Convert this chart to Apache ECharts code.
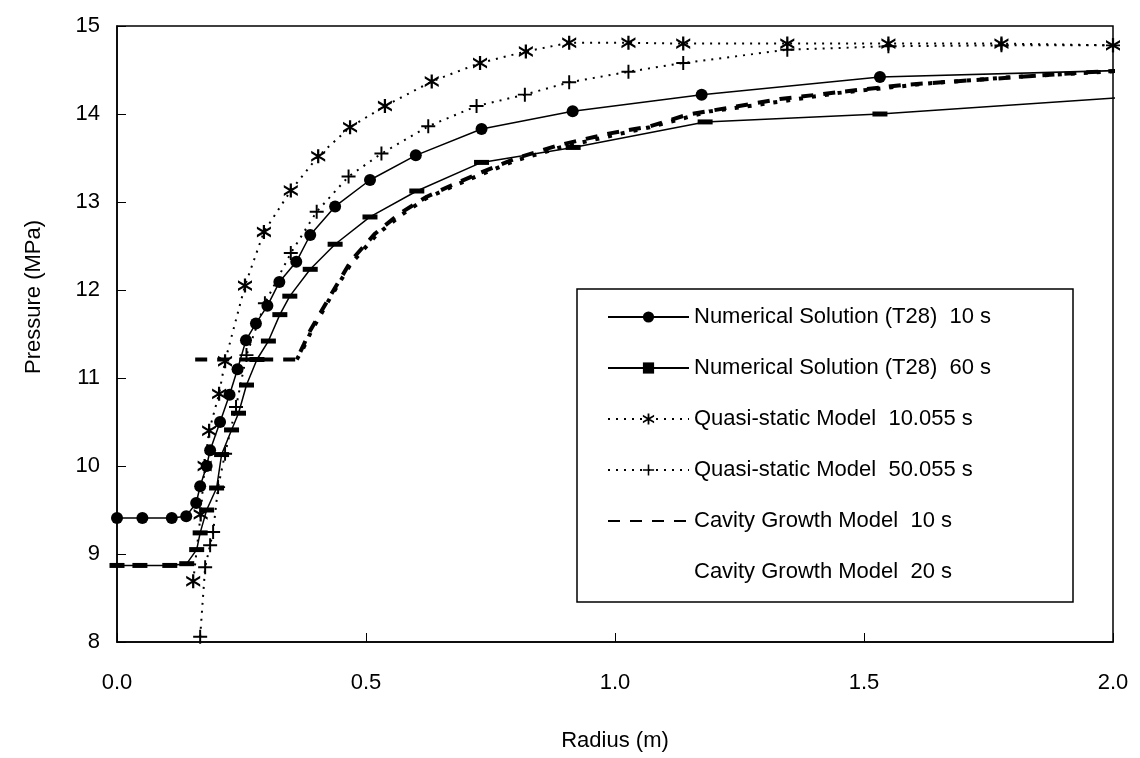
<!DOCTYPE html>
<html><head><meta charset="utf-8">
<script src="https://cdn.jsdelivr.net/npm/echarts@6/dist/echarts.min.js"></script>
<style>html,body{margin:0;padding:0;background:#fff}#c{width:1140px;height:758px}</style>
</head><body><div id="c"></div>
<script>
// ---- data ----
const seriesNames = [
  'Numerical Solution (T28)  10 s',
  'Numerical Solution (T28)  60 s',
  'Quasi-static Model  10.055 s',
  'Quasi-static Model  50.055 s',
  'Cavity Growth Model  10 s',
  'Cavity Growth Model  20 s'
];
const xTicks = [0, 0.5, 1.0, 1.5, 2.0];
const yTicks = [8, 9, 10, 11, 12, 13, 14, 15];

const num10X = [0, 0.051, 0.11, 0.139, 0.159, 0.167, 0.18, 0.187, 0.207, 0.226, 0.242, 0.259, 0.279, 0.302, 0.326, 0.36, 0.388, 0.438, 0.508, 0.600, 0.732, 0.915, 1.174, 1.532, 2.05];
const num10Y = [9.41, 9.41, 9.41, 9.43, 9.58, 9.77, 10.0, 10.18, 10.50, 10.81, 11.10, 11.43, 11.62, 11.82, 12.09, 12.32, 12.625, 12.95, 13.25, 13.53, 13.83, 14.03, 14.22, 14.42, 14.50];

const num60X = [0, 0.046, 0.106, 0.14, 0.16, 0.167, 0.18, 0.20, 0.21, 0.23, 0.244, 0.26, 0.281, 0.304, 0.327, 0.347, 0.388, 0.438, 0.508, 0.602, 0.732, 0.916, 1.181, 1.532, 2.05];
const num60Y = [8.87, 8.87, 8.87, 8.89, 9.05, 9.24, 9.5, 9.75, 10.13, 10.41, 10.60, 10.92, 11.21, 11.42, 11.72, 11.93, 12.235, 12.52, 12.83, 13.125, 13.45, 13.62, 13.91, 14.0, 14.20];

const qs10X = [0.153, 0.168, 0.176, 0.185, 0.205, 0.217, 0.257, 0.295, 0.349, 0.404, 0.468, 0.538, 0.632, 0.729, 0.821, 0.908, 1.027, 1.137, 1.346, 1.549, 1.776, 2.0];
const qs10Y = [8.69, 9.45, 10.0, 10.4, 10.82, 11.19, 12.05, 12.66, 13.13, 13.52, 13.85, 14.09, 14.37, 14.58, 14.71, 14.81, 14.81, 14.80, 14.80, 14.80, 14.80, 14.78];

const qs50X = [0.167, 0.177, 0.187, 0.193, 0.203, 0.217, 0.239, 0.26, 0.297, 0.349, 0.401, 0.465, 0.531, 0.625, 0.722, 0.819, 0.908, 1.027, 1.137, 1.346, 1.549, 1.776, 2.0];
const qs50Y = [8.06, 8.85, 9.1, 9.25, 9.76, 10.14, 10.67, 11.26, 11.85, 12.42, 12.89, 13.29, 13.55, 13.86, 14.09, 14.22, 14.36, 14.48, 14.58, 14.73, 14.77, 14.78, 14.78];

const cg10X = [0.157, 0.361, 0.375, 0.388, 0.431, 0.471, 0.518, 0.568, 0.622, 0.672, 0.729, 0.803, 0.89, 0.99, 1.07, 1.144, 1.237, 1.331, 1.452, 1.578, 1.759, 1.934, 2.05];
const cg10Y = [11.21, 11.21, 11.38, 11.54, 11.96, 12.34, 12.64, 12.87, 13.06, 13.19, 13.33, 13.50, 13.65, 13.78, 13.86, 13.99, 14.08, 14.17, 14.25, 14.33, 14.40, 14.47, 14.50];

const cg20X = [0.361, 0.375, 0.39, 0.43, 0.47, 0.52, 0.57, 0.62, 0.675, 0.73, 0.80, 0.89, 0.99, 1.07, 1.19, 1.294, 1.45, 1.633, 1.80, 2.05];
const cg20Y = [11.21, 11.35, 11.53, 11.93, 12.30, 12.62, 12.85, 13.04, 13.18, 13.31, 13.47, 13.62, 13.75, 13.85, 14.03, 14.11, 14.24, 14.35, 14.42, 14.50];

// ---- build ----
const pairs = (xs, ys) => xs.map((x, i) => [x, ys[i]]);
const FONT = '"Liberation Sans", Arial, sans-serif';
const asterisk = 'path://M4.2,0 L5.8,0 L5.8,10 L4.2,10 Z M0,1.1 L10,7.1 L10,8.9 L0,2.9 Z M0,7.1 L10,1.1 L10,2.9 L0,8.9 Z';
const plusSym = 'path://M4.3,0 L5.7,0 L5.7,10 L4.3,10 Z M0,4.3 L10,4.3 L10,5.7 L0,5.7 Z';
const dashSym = 'path://M0,0 L15,0 L15,5 L0,5 Z';
const black = '#000';

const chart = echarts.init(document.getElementById('c'), null, {renderer: 'canvas'});
chart.setOption({
  backgroundColor: '#fff',
  animation: false,
  textStyle: {fontFamily: FONT, color: black},
  grid: {left: 117, top: 26, width: 996, height: 616, show: true, borderColor: black, borderWidth: 1.5, backgroundColor: 'transparent'},
  xAxis: {
    type: 'value', min: 0, max: 2, interval: 0.5,
    axisLine: {lineStyle: {color: black, width: 1.5}},
    axisTick: {inside: true, length: 9, lineStyle: {color: black, width: 1}},
    axisLabel: {formatter: v => xTicks.includes(v) ? v.toFixed(1) : '', fontSize: 22, color: black, margin: 30, fontFamily: FONT},
    splitLine: {show: false}
  },
  yAxis: {
    type: 'value', min: 8, max: 15, interval: 1,
    axisLine: {show: true, lineStyle: {color: black, width: 1.5}},
    axisTick: {show: true, inside: true, length: 9, lineStyle: {color: black, width: 1}},
    axisLabel: {formatter: v => yTicks.includes(v) ? String(v) : '', fontSize: 22, color: black, margin: 17, fontFamily: FONT},
    splitLine: {show: false}
  },
  graphic: [
    {type: 'rect', shape: {x: 577, y: 289, width: 496, height: 313}, style: {fill: '#fff', stroke: black, lineWidth: 1.5}, z: 50},
    {type: 'text', x: 615, y: 741, style: {text: 'Radius (m)', font: '22px ' + FONT, fill: black, textAlign: 'center', textVerticalAlign: 'middle'}},
    {type: 'text', x: 34, y: 297, rotation: Math.PI / 2, style: {text: 'Pressure (MPa)', font: '22px ' + FONT, fill: black, textAlign: 'center', textVerticalAlign: 'middle'}}
  ],
  legend: {
    orient: 'vertical', left: 577, top: 289, z: 60,
    padding: [16, 10, 10, 30], itemGap: 27, itemWidth: 81, itemHeight: 14,
    selectedMode: false,
    textStyle: {fontSize: 22, color: black, fontFamily: FONT, lineHeight: 24},
    data: [
      seriesNames[0], seriesNames[1], seriesNames[2], seriesNames[3],
      {name: seriesNames[4], itemStyle: {opacity: 0}},
      {name: seriesNames[5], itemStyle: {opacity: 0}, lineStyle: {opacity: 0}}
    ]
  },
  series: [
    {name: seriesNames[0], type: 'line', data: pairs(num10X, num10Y), symbol: 'circle', symbolSize: 12,
      itemStyle: {color: black}, lineStyle: {color: black, width: 1.5}, z: 5},
    {name: seriesNames[1], type: 'line', data: pairs(num60X, num60Y), symbol: dashSym, symbolSize: 15, symbolKeepAspect: true,
      itemStyle: {color: black}, lineStyle: {color: black, width: 1.5}, z: 5},
    {name: seriesNames[2], type: 'line', data: pairs(qs10X, qs10Y), symbol: asterisk, symbolSize: 14,
      itemStyle: {color: black}, lineStyle: {color: black, width: 2, type: [2, 6]}, z: 4},
    {name: seriesNames[3], type: 'line', data: pairs(qs50X, qs50Y), symbol: plusSym, symbolSize: 14,
      itemStyle: {color: black}, lineStyle: {color: black, width: 2, type: [2, 6]}, z: 4},
    {name: seriesNames[4], type: 'line', data: pairs(cg10X, cg10Y), showSymbol: false, symbol: 'none',
      lineStyle: {color: black, width: 4, type: [12, 10]}, itemStyle: {color: black}, z: 3},
    {name: seriesNames[5], type: 'line', data: pairs(cg20X, cg20Y), showSymbol: false, symbol: 'none',
      lineStyle: {color: black, width: 4, type: [4, 9]}, itemStyle: {color: black}, z: 3}
  ]
});
</script>
</body></html>
